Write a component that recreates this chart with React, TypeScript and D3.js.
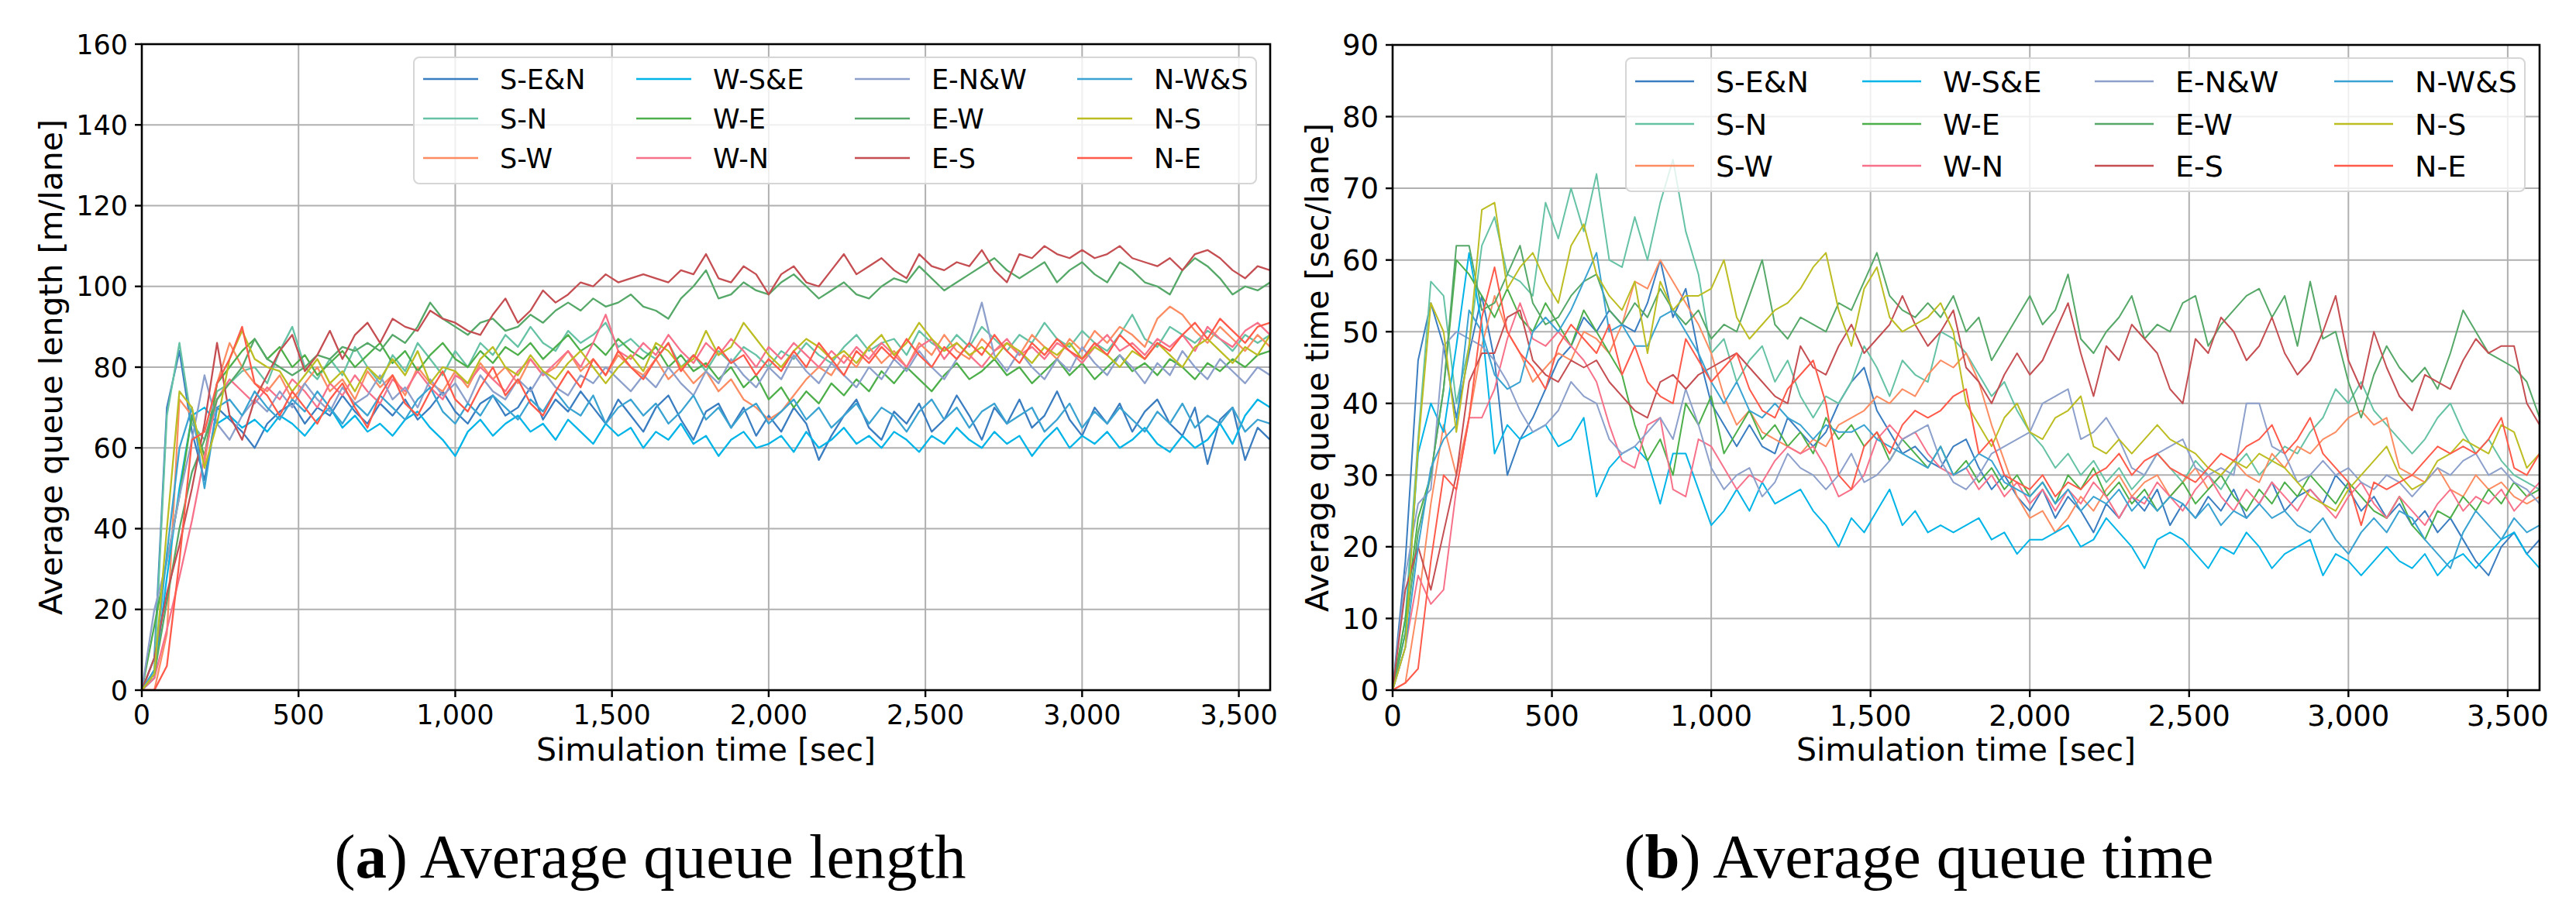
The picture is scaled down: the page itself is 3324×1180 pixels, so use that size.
import React from 'react';
import * as d3 from 'd3';

// ---------- shared categories ----------
const TIME = d3.range(0, 3601, 40); // simulation time samples [sec]
const SERIES_NAMES = ['S-E&N', 'S-N', 'S-W', 'W-S&E', 'W-E', 'W-N', 'E-N&W', 'E-W', 'E-S', 'N-W&S', 'N-S', 'N-E'];
const SERIES_COLORS = ['#3a7dc0', '#66c2a5', '#fc8d62', '#00b4e8', '#4daf4a', '#f7718a', '#8da0cb', '#55a868', '#c44e52', '#3aa3d2', '#bcbd22', '#ff5a4a'];
const X_TICKS = [0, 500, 1000, 1500, 2000, 2500, 3000, 3500];
const LEN_TICKS = [0, 20, 40, 60, 80, 100, 120, 140, 160];
const QT_TICKS = [0, 10, 20, 30, 40, 50, 60, 70, 80, 90];

// ---------- (a) average queue length [m/lane] ----------
const lenSEN = [0, 8, 70, 84, 64, 52, 70, 67, 64, 60, 66, 69, 71, 66, 70, 68, 73, 69, 66, 71, 68, 72, 67, 70, 74, 69, 66, 71, 73, 68, 70, 75, 67, 72, 69, 74, 70, 66, 72, 68, 64, 70, 73, 67, 62, 69, 71, 65, 70, 63, 68, 64, 70, 66, 57, 63, 68, 72, 65, 62, 69, 66, 71, 64, 67, 73, 68, 62, 70, 66, 72, 65, 68, 74, 67, 63, 70, 66, 71, 64, 69, 72, 66, 63, 70, 56, 67, 70, 57, 65, 62];
const lenSN = [0, 5, 68, 86, 66, 62, 74, 76, 79, 80, 76, 84, 90, 80, 77, 82, 78, 85, 80, 76, 83, 79, 86, 82, 78, 84, 80, 86, 83, 88, 85, 90, 86, 84, 89, 86, 88, 91, 85, 87, 84, 82, 86, 80, 83, 79, 84, 81, 85, 83, 80, 84, 82, 86, 83, 81, 85, 88, 84, 86, 87, 83, 89, 86, 84, 88, 85, 90, 87, 84, 88, 86, 91, 87, 85, 89, 86, 84, 88, 93, 87, 85, 90, 88, 86, 89, 87, 84, 88, 86, 88];
const lenSW = [0, 0, 14, 72, 68, 56, 76, 86, 80, 76, 74, 78, 72, 76, 80, 74, 77, 72, 79, 75, 78, 73, 80, 76, 74, 79, 75, 81, 77, 80, 76, 82, 78, 80, 84, 79, 82, 78, 83, 80, 78, 82, 77, 80, 76, 79, 74, 77, 72, 70, 67, 69, 73, 77, 80, 78, 83, 80, 85, 81, 84, 80, 86, 83, 88, 84, 82, 87, 84, 86, 83, 88, 85, 82, 87, 84, 89, 86, 90, 88, 85, 92, 95, 93, 89, 86, 90, 87, 84, 88, 85];
const lenWSE = [0, 3, 28, 50, 68, 70, 66, 68, 65, 67, 64, 68, 66, 63, 67, 70, 65, 68, 64, 66, 63, 67, 69, 65, 62, 58, 64, 67, 63, 66, 68, 64, 66, 62, 67, 64, 61, 66, 63, 65, 60, 64, 62, 66, 61, 63, 58, 62, 64, 60, 61, 63, 59, 64, 60, 62, 65, 61, 63, 60, 64, 62, 59, 63, 61, 65, 62, 60, 64, 61, 63, 58, 62, 65, 60, 63, 61, 64, 60, 62, 65, 61, 59, 63, 60, 62, 66, 61, 68, 72, 70];
const lenWE = [0, 16, 32, 48, 68, 58, 76, 80, 84, 87, 82, 85, 80, 83, 78, 81, 84, 80, 83, 86, 81, 84, 79, 83, 86, 82, 80, 84, 81, 85, 83, 86, 82, 85, 88, 84, 86, 83, 87, 84, 82, 85, 80, 83, 79, 81, 77, 80, 75, 78, 72, 75, 70, 74, 71, 76, 73, 77, 74, 79, 76, 80, 77, 74, 78, 81, 77, 79, 82, 78, 80, 76, 79, 82, 78, 81, 77, 80, 83, 79, 81, 78, 82, 80, 77, 81, 79, 82, 80, 83, 84];
const lenWN = [0, 3, 15, 28, 42, 58, 72, 77, 74, 71, 75, 72, 77, 74, 70, 76, 73, 78, 74, 71, 77, 74, 79, 75, 72, 78, 76, 80, 77, 74, 79, 82, 78, 81, 84, 80, 86, 93, 84, 82, 86, 83, 88, 84, 81, 86, 83, 87, 84, 80, 85, 82, 86, 83, 80, 84, 81, 85, 82, 86, 83, 80, 85, 87, 82, 86, 83, 80, 84, 87, 83, 85, 82, 86, 84, 81, 85, 88, 84, 86, 83, 87, 85, 88, 84, 90, 87, 85, 89, 91, 88];
const lenENW = [0, 20, 32, 48, 62, 78, 66, 62, 68, 72, 69, 74, 70, 76, 72, 69, 75, 71, 73, 78, 72, 75, 70, 77, 73, 76, 71, 78, 74, 72, 77, 74, 79, 75, 73, 78, 76, 80, 77, 74, 78, 75, 80, 76, 73, 79, 76, 82, 78, 75, 80, 77, 83, 79, 76, 81, 78, 75, 80, 77, 82, 79, 84, 80, 77, 82, 86, 96, 83, 79, 84, 80, 77, 82, 79, 85, 81, 78, 83, 80, 76, 81, 78, 84, 80, 77, 82, 79, 76, 80, 78];
const lenEW = [0, 4, 22, 40, 54, 62, 72, 76, 80, 87, 82, 80, 78, 80, 83, 82, 85, 84, 86, 84, 88, 86, 90, 96, 92, 90, 88, 91, 92, 89, 90, 93, 91, 94, 96, 94, 97, 95, 96, 98, 95, 94, 92, 97, 100, 104, 97, 98, 101, 99, 98, 101, 103, 100, 97, 99, 101, 98, 97, 100, 102, 101, 105, 102, 99, 101, 103, 105, 107, 104, 102, 104, 106, 101, 104, 106, 103, 101, 106, 104, 101, 100, 98, 104, 107, 105, 102, 98, 100, 99, 101];
const lenES = [0, 8, 24, 36, 50, 66, 86, 68, 62, 72, 78, 84, 88, 79, 83, 89, 82, 88, 91, 86, 92, 90, 89, 94, 92, 91, 89, 88, 93, 97, 91, 94, 99, 96, 98, 101, 100, 103, 101, 102, 103, 102, 101, 104, 103, 108, 102, 101, 105, 103, 98, 103, 105, 101, 100, 104, 108, 103, 105, 107, 104, 102, 108, 105, 104, 106, 105, 109, 104, 101, 108, 107, 110, 108, 107, 109, 107, 108, 110, 107, 106, 105, 107, 104, 108, 109, 107, 104, 102, 105, 104];
const lenNWS = [0, 5, 34, 60, 70, 50, 70, 72, 68, 74, 70, 67, 72, 69, 74, 70, 66, 71, 68, 73, 70, 67, 72, 75, 69, 66, 71, 68, 73, 70, 67, 72, 69, 74, 70, 68, 73, 66, 70, 72, 68, 71, 66, 69, 73, 67, 70, 65, 69, 71, 66, 69, 72, 67, 70, 65, 68, 71, 66, 70, 68, 64, 69, 72, 67, 70, 65, 69, 71, 66, 68, 70, 64, 67, 71, 65, 69, 66, 70, 67, 64, 69, 66, 71, 65, 68, 66, 70, 64, 67, 66];
const lenNS = [0, 4, 40, 74, 70, 55, 66, 82, 89, 82, 80, 79, 74, 78, 82, 76, 79, 74, 80, 77, 82, 78, 84, 76, 80, 79, 76, 82, 85, 80, 78, 83, 79, 77, 81, 84, 80, 76, 80, 83, 79, 86, 84, 80, 82, 89, 83, 85, 91, 87, 83, 80, 84, 87, 85, 82, 84, 81, 85, 88, 83, 86, 91, 87, 84, 86, 83, 85, 82, 86, 84, 81, 85, 83, 86, 82, 85, 83, 80, 84, 82, 86, 83, 80, 85, 87, 84, 81, 85, 83, 88];
const lenNE = [0, 0, 6, 32, 62, 64, 76, 82, 90, 76, 73, 68, 74, 70, 66, 72, 76, 70, 65, 73, 78, 71, 68, 74, 79, 72, 69, 75, 80, 73, 77, 71, 68, 74, 79, 75, 82, 78, 84, 80, 77, 82, 86, 79, 83, 80, 85, 81, 83, 78, 82, 79, 84, 80, 86, 82, 78, 84, 81, 85, 82, 87, 83, 80, 85, 82, 86, 83, 88, 84, 81, 86, 83, 87, 84, 82, 86, 83, 88, 85, 82, 86, 84, 88, 91, 87, 92, 89, 86, 90, 91];

// ---------- (b) average queue time [sec/lane] ----------
const qtSEN = [0, 18, 46, 54, 48, 38, 47, 55, 46, 30, 35, 38, 42, 46, 48, 52, 50, 53, 51, 50, 54, 60, 52, 56, 47, 40, 37, 34, 37, 34, 33, 38, 36, 34, 36, 40, 43, 45, 39, 36, 33, 34, 32, 31, 34, 35, 31, 28, 30, 27, 25, 28, 24, 27, 25, 22, 26, 24, 27, 25, 28, 23, 26, 24, 27, 25, 28, 24, 26, 29, 25, 27, 28, 26, 30, 28, 25, 27, 24, 26, 23, 25, 22, 24, 21, 18, 16, 20, 22, 19, 21];
const qtSN = [0, 10, 35, 57, 55, 40, 48, 62, 66, 58, 57, 55, 68, 63, 70, 64, 72, 60, 59, 66, 60, 68, 74, 64, 58, 47, 49, 43, 46, 48, 43, 46, 41, 38, 41, 40, 43, 48, 45, 41, 46, 44, 43, 50, 49, 47, 44, 41, 43, 39, 36, 34, 31, 33, 30, 32, 29, 31, 28, 30, 33, 31, 29, 32, 30, 28, 31, 33, 30, 32, 34, 33, 36, 38, 42, 40, 43, 39, 37, 35, 33, 35, 38, 40, 36, 33, 35, 32, 30, 29, 28];
const qtSW = [0, 1, 12, 26, 37, 30, 38, 48, 55, 50, 47, 43, 45, 47, 46, 50, 49, 47, 51, 57, 56, 60, 57, 54, 51, 47, 41, 37, 39, 36, 35, 34, 33, 35, 34, 37, 38, 39, 41, 40, 42, 41, 44, 46, 45, 47, 43, 37, 32, 27, 24, 25, 22, 24, 27, 25, 28, 30, 27, 29, 30, 27, 29, 31, 28, 30, 32, 30, 29, 33, 31, 34, 33, 35, 36, 38, 39, 37, 38, 31, 30, 29, 31, 28, 27, 30, 28, 29, 27, 26, 27];
const qtWSE = [0, 8, 33, 40, 36, 48, 61, 51, 33, 37, 35, 36, 37, 34, 35, 38, 27, 31, 33, 34, 32, 26, 33, 33, 28, 23, 25, 28, 25, 29, 26, 27, 28, 25, 23, 20, 24, 22, 25, 28, 23, 25, 22, 23, 22, 23, 24, 21, 22, 19, 21, 21, 22, 23, 20, 21, 24, 22, 20, 17, 21, 22, 21, 19, 17, 20, 19, 22, 20, 17, 19, 20, 21, 16, 19, 18, 16, 18, 20, 18, 17, 19, 16, 18, 19, 17, 19, 21, 22, 19, 17];
const qtWE = [0, 10, 24, 30, 42, 60, 58, 55, 52, 56, 52, 50, 54, 51, 48, 53, 50, 47, 44, 37, 32, 35, 30, 40, 37, 41, 33, 36, 39, 35, 37, 34, 36, 33, 38, 35, 37, 34, 36, 32, 35, 33, 31, 34, 30, 32, 29, 31, 28, 30, 27, 29, 26, 30, 28, 31, 27, 29, 26, 28, 25, 27, 29, 26, 28, 30, 27, 25, 28, 26, 29, 27, 30, 28, 26, 29, 27, 25, 24, 27, 23, 21, 25, 24, 27, 25, 28, 26, 29, 27, 28];
const qtWN = [0, 6, 16, 12, 14, 28, 38, 38, 42, 49, 54, 49, 48, 50, 48, 46, 43, 37, 32, 31, 37, 38, 28, 27, 35, 34, 31, 28, 30, 29, 32, 34, 33, 34, 31, 27, 28, 30, 35, 37, 35, 36, 33, 31, 30, 31, 28, 30, 27, 29, 26, 28, 25, 28, 26, 29, 27, 24, 27, 26, 29, 27, 25, 28, 30, 27, 25, 28, 26, 29, 27, 25, 28, 26, 24, 27, 29, 26, 24, 27, 25, 23, 26, 28, 25, 27, 26, 28, 25, 27, 29];
const qtENW = [0, 16, 26, 28, 48, 50, 49, 48, 46, 43, 39, 36, 37, 39, 43, 41, 40, 35, 33, 34, 36, 38, 35, 42, 37, 31, 28, 30, 31, 27, 29, 33, 31, 30, 28, 30, 33, 29, 30, 32, 35, 36, 37, 32, 29, 28, 30, 33, 34, 35, 36, 40, 41, 42, 35, 36, 38, 35, 31, 30, 33, 34, 35, 31, 30, 31, 30, 40, 40, 34, 33, 29, 30, 32, 30, 31, 29, 28, 30, 29, 27, 29, 31, 30, 32, 33, 30, 31, 29, 28, 26];
const qtEW = [0, 8, 22, 30, 42, 62, 62, 53, 54, 58, 62, 54, 51, 52, 55, 57, 58, 53, 51, 54, 52, 56, 53, 51, 53, 49, 51, 50, 55, 60, 51, 49, 52, 51, 50, 54, 53, 57, 61, 55, 53, 52, 54, 52, 55, 50, 52, 46, 49, 52, 55, 51, 53, 58, 49, 47, 50, 52, 55, 49, 51, 50, 54, 55, 48, 51, 53, 55, 56, 52, 55, 48, 57, 49, 50, 43, 38, 44, 48, 45, 43, 45, 42, 47, 53, 50, 47, 46, 45, 43, 38];
const qtES = [0, 14, 20, 14, 22, 30, 43, 47, 47, 52, 53, 46, 44, 43, 46, 45, 46, 43, 41, 39, 38, 43, 44, 42, 44, 45, 46, 47, 45, 43, 41, 40, 48, 45, 44, 48, 51, 47, 49, 51, 55, 51, 48, 50, 53, 45, 43, 40, 44, 47, 44, 46, 50, 54, 47, 41, 48, 46, 51, 49, 47, 42, 40, 49, 47, 52, 50, 46, 48, 52, 47, 44, 46, 50, 55, 46, 42, 50, 45, 41, 39, 44, 43, 42, 46, 49, 47, 48, 48, 40, 37];
const qtNWS = [0, 6, 20, 31, 35, 37, 53, 50, 44, 42, 43, 50, 52, 50, 53, 57, 61, 50, 51, 48, 48, 52, 53, 50, 47, 43, 40, 43, 39, 38, 40, 38, 37, 35, 37, 36, 36, 37, 35, 34, 33, 32, 31, 34, 30, 31, 33, 32, 29, 28, 27, 29, 26, 28, 25, 27, 26, 28, 25, 27, 25, 27, 26, 24, 26, 23, 25, 24, 26, 24, 25, 23, 22, 24, 21, 19, 22, 24, 22, 25, 24, 21, 19, 17, 22, 25, 23, 21, 24, 22, 23];
const qtNS = [0, 6, 34, 54, 50, 36, 48, 67, 68, 56, 59, 61, 57, 54, 62, 65, 58, 55, 53, 57, 47, 57, 53, 55, 55, 56, 60, 52, 49, 51, 53, 54, 56, 59, 61, 53, 48, 56, 59, 52, 50, 51, 52, 54, 50, 40, 37, 34, 38, 40, 36, 35, 38, 39, 41, 34, 33, 35, 33, 35, 37, 35, 34, 33, 31, 30, 32, 31, 33, 32, 31, 29, 27, 26, 25, 28, 30, 32, 34, 30, 28, 29, 32, 33, 35, 34, 33, 37, 36, 31, 33];
const qtNE = [0, 1, 3, 18, 30, 28, 38, 52, 59, 50, 47, 45, 42, 48, 51, 49, 47, 51, 44, 48, 43, 41, 40, 49, 46, 43, 45, 47, 42, 39, 38, 42, 44, 46, 40, 30, 28, 34, 36, 33, 37, 39, 38, 39, 41, 42, 33, 35, 30, 29, 28, 30, 27, 29, 28, 30, 31, 33, 30, 32, 33, 31, 30, 29, 31, 33, 32, 34, 35, 37, 33, 35, 38, 33, 31, 29, 23, 29, 28, 29, 30, 32, 34, 33, 34, 33, 35, 38, 31, 30, 33];

const LENGTH_DATA = [lenSEN, lenSN, lenSW, lenWSE, lenWE, lenWN, lenENW, lenEW, lenES, lenNWS, lenNS, lenNE];
const QTIME_DATA = [qtSEN, qtSN, qtSW, qtWSE, qtWE, qtWN, qtENW, qtEW, qtES, qtNWS, qtNS, qtNE];

const SANS = 'DejaVu Sans, Verdana, sans-serif';
const SERIF = 'Liberation Serif, Times New Roman, serif';

type PanelProps = {
  id: string;
  left: number; right: number; top: number; bottom: number;
  yMax: number; yTicks: number[];
  data: number[][];
  yLabel: string; yLabelX: number;
  tickFont: number; labelFont: number;
  xTickBaseline: number; xLabelBaseline: number;
  lineWidth: number;
  legend: { x: number; y: number; w: number; h: number; handles: number[]; handleLen: number; textGap: number; rows: number[]; font: number };
  captionLetter: string; captionRest: string; captionX: number; captionY: number;
};

function Panel(p: PanelProps) {
  const x = d3.scaleLinear().domain([0, 3600]).range([p.left, p.right]);
  const y = d3.scaleLinear().domain([0, p.yMax]).range([p.bottom, p.top]);
  const line = d3.line<number>().x((_, i) => x(TIME[i])).y((v) => y(v)).curve(d3.curveLinear);
  const fmt = d3.format(',');
  const tickLen = 9;
  return (
    <g>
      <defs>
        <clipPath id={`clip-${p.id}`}>
          <rect x={p.left} y={p.top} width={p.right - p.left} height={p.bottom - p.top} />
        </clipPath>
      </defs>
      {/* grid */}
      {X_TICKS.map((t) => (
        <line key={`gx${t}`} x1={x(t)} x2={x(t)} y1={p.top} y2={p.bottom} stroke="#b0b0b0" strokeWidth={2} />
      ))}
      {p.yTicks.map((t) => (
        <line key={`gy${t}`} x1={p.left} x2={p.right} y1={y(t)} y2={y(t)} stroke="#b0b0b0" strokeWidth={2} />
      ))}
      {/* series */}
      <g clipPath={`url(#clip-${p.id})`}>
        {p.data.map((vals, k) => (
          <path key={SERIES_NAMES[k]} d={line(vals) || ''} fill="none" stroke={SERIES_COLORS[k]} strokeWidth={p.lineWidth} strokeLinejoin="round" />
        ))}
      </g>
      {/* spines */}
      <rect x={p.left} y={p.top} width={p.right - p.left} height={p.bottom - p.top} fill="none" stroke="#000" strokeWidth={2.6} />
      {/* x ticks */}
      {X_TICKS.map((t) => (
        <g key={`xt${t}`}>
          <line x1={x(t)} x2={x(t)} y1={p.bottom} y2={p.bottom + tickLen} stroke="#000" strokeWidth={2.4} />
          <text x={x(t)} y={p.xTickBaseline} textAnchor="middle" fontFamily={SANS} fontSize={p.tickFont} fill="#000">{fmt(t)}</text>
        </g>
      ))}
      {/* y ticks */}
      {p.yTicks.map((t) => (
        <g key={`yt${t}`}>
          <line x1={p.left - tickLen} x2={p.left} y1={y(t)} y2={y(t)} stroke="#000" strokeWidth={2.4} />
          <text x={p.left - tickLen - 9} y={y(t)} dy="0.36em" textAnchor="end" fontFamily={SANS} fontSize={p.tickFont} fill="#000">{t}</text>
        </g>
      ))}
      {/* axis labels */}
      <text x={(p.left + p.right) / 2} y={p.xLabelBaseline} textAnchor="middle" fontFamily={SANS} fontSize={p.labelFont} fill="#000">Simulation time [sec]</text>
      <text transform={`translate(${p.yLabelX},${(p.top + p.bottom) / 2}) rotate(-90)`} textAnchor="middle" fontFamily={SANS} fontSize={p.labelFont} fill="#000">{p.yLabel}</text>
      {/* legend */}
      <rect x={p.legend.x} y={p.legend.y} width={p.legend.w} height={p.legend.h} rx={7} ry={7} fill="#fff" fillOpacity={0.8} stroke="#d6d6d6" strokeWidth={2} />
      {SERIES_NAMES.map((name, k) => {
        const col = Math.floor(k / 3);
        const row = k % 3;
        const hx = p.legend.handles[col];
        const ry = p.legend.rows[row];
        return (
          <g key={`lg${name}`}>
            <line x1={hx} x2={hx + p.legend.handleLen} y1={ry} y2={ry} stroke={SERIES_COLORS[k]} strokeWidth={p.lineWidth + 0.4} />
            <text x={hx + p.legend.textGap} y={ry} dy="0.36em" fontFamily={SANS} fontSize={p.legend.font} fill="#000">{name}</text>
          </g>
        );
      })}
      {/* caption */}
      <text x={p.captionX} y={p.captionY} textAnchor="middle" fontFamily={SERIF} fontSize={81} fill="#000">
        <tspan>(</tspan>
        <tspan fontWeight="bold">{p.captionLetter}</tspan>
        <tspan>{p.captionRest}</tspan>
      </text>
    </g>
  );
}

export default function App() {
  return (
    <svg width={3324} height={1180} viewBox="0 0 3324 1180" style={{ position: 'absolute', left: 0, top: 0, background: '#fff' }}>
      <rect x={0} y={0} width={3324} height={1180} fill="#fff" />
      <Panel
        id="a"
        left={183} right={1639} top={57} bottom={891}
        yMax={160} yTicks={LEN_TICKS}
        data={LENGTH_DATA}
        yLabel="Average queue length [m/lane]" yLabelX={80}
        tickFont={35} labelFont={41}
        xTickBaseline={935} xLabelBaseline={982}
        lineWidth={2.3}
        legend={{ x: 534, y: 74, w: 1087, h: 163, handles: [546, 821, 1103, 1390], handleLen: 71, textGap: 99, rows: [102, 153, 204], font: 35 }}
        captionLetter="a" captionRest=") Average queue length" captionX={839} captionY={1133}
      />
      <Panel
        id="b"
        left={1797} right={3277} top={58} bottom={891}
        yMax={90} yTicks={QT_TICKS}
        data={QTIME_DATA}
        yLabel="Average queue time [sec/lane]" yLabelX={1714}
        tickFont={37} labelFont={41}
        xTickBaseline={937} xLabelBaseline={982}
        lineWidth={2.0}
        legend={{ x: 2098, y: 75, w: 1160, h: 172, handles: [2110, 2403, 2703, 3012], handleLen: 76, textGap: 104, rows: [105, 160, 214], font: 38 }}
        captionLetter="b" captionRest=") Average queue time" captionX={2476} captionY={1133}
      />
    </svg>
  );
}
